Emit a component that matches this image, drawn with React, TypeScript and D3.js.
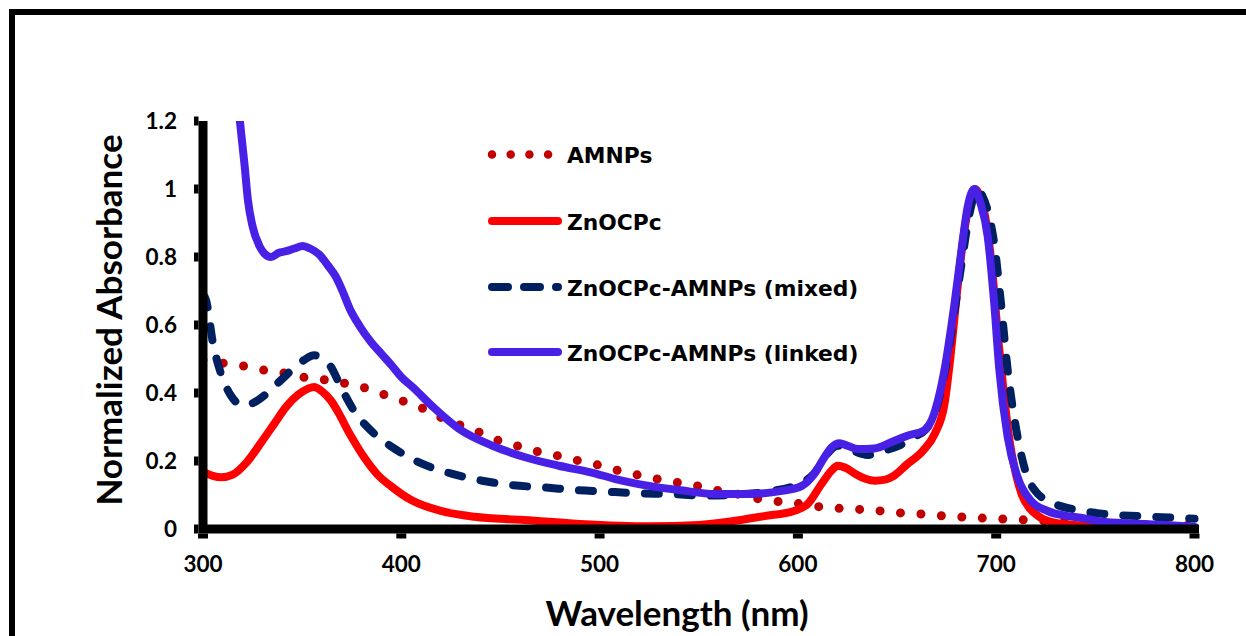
import React from "react";
import * as d3 from "d3";

// ---------- data ----------
const xTicks = [300, 400, 500, 600, 700, 800];
const yTicks = [0, 0.2, 0.4, 0.6, 0.8, 1, 1.2];
const yTickLabels = ["0", "0.2", "0.4", "0.6", "0.8", "1", "1.2"];

const seriesNames = ["AMNPs", "ZnOCPc", "ZnOCPc-AMNPs (mixed)", "ZnOCPc-AMNPs (linked)"];

const amnpsWl = [300,310,320,330,340,350,360,370,380,390,400,410,420,430,440,450,460,470,480,490,500,510,520,530,540,550,560,570,580,590,600,610,620,630,640,650,660,670,680,690,700,710,720,730,740,750,760,770,780,790,800];
const amnpsAbs = [0.497,0.488,0.48,0.468,0.46,0.447,0.44,0.43,0.418,0.398,0.378,0.357,0.328,0.305,0.283,0.258,0.242,0.226,0.214,0.2,0.187,0.171,0.158,0.146,0.136,0.126,0.113,0.102,0.089,0.081,0.075,0.066,0.061,0.058,0.054,0.048,0.045,0.04,0.036,0.033,0.03,0.028,0.025,0.022,0.02,0.018,0.016,0.014,0.012,0.011,0.01];

const zncWl = [300,305,309,315,322,330,336,342,348,353,356,360,364.5,369,373,377,381,388,395,405,420,437,460,490,525,550,566,583,598,605,612,617,620,624,629,634,639,644,648,655,663,669,674,677,680.5,684,687,689.5,692,695,698,701,704,707,710,713,717,722,730,745,770,800];
const zncAbs = [0.168,0.156,0.152,0.16,0.196,0.26,0.31,0.36,0.395,0.413,0.418,0.405,0.378,0.335,0.29,0.25,0.213,0.16,0.125,0.085,0.053,0.036,0.027,0.015,0.008,0.012,0.022,0.038,0.053,0.074,0.133,0.172,0.186,0.18,0.162,0.148,0.142,0.145,0.155,0.19,0.23,0.28,0.37,0.51,0.71,0.88,0.97,1.0,0.975,0.9,0.76,0.56,0.39,0.25,0.16,0.1,0.06,0.035,0.018,0.01,0.006,0.003];

const mixedWl = [300,301.5,305,309,314,320,325,331,336,341,346,351,356,360,364.5,369.5,376,384.6,395.6,409,425.8,440.8,456,472.5,489.5,502.8,520,536,553,570,585,600,608,614,620,627,635,643,651,658,664,669,674,679,683,687,690.5,693,696,699,702.4,705.8,710.8,715.8,720,725.9,732,739,756,772.8,789.6,800];
const mixedAbs = [0.69,0.674,0.547,0.458,0.393,0.364,0.37,0.393,0.42,0.447,0.475,0.497,0.511,0.5,0.477,0.418,0.349,0.29,0.24,0.196,0.162,0.142,0.129,0.122,0.114,0.11,0.105,0.103,0.098,0.102,0.11,0.132,0.162,0.215,0.245,0.232,0.218,0.23,0.245,0.27,0.29,0.34,0.46,0.64,0.8,0.94,0.998,0.98,0.93,0.84,0.664,0.467,0.27,0.152,0.11,0.083,0.068,0.058,0.043,0.038,0.033,0.03];

const linkedWl = [314,318.6,321,322.6,325,328.5,331,334.4,338,342,346,350.3,354,358.7,363,367,370,374,379,384.7,390,395.6,400,405.6,416,429,446,462.5,479.4,496,508,525,541,558,575,592,602,608,613.4,617,621,625,630.3,638.5,647,655.5,663.7,668.7,673.9,679,682.3,685.7,689,692,695.7,699,701.6,705.8,710.8,717.5,725.9,736,742.7,752.7,769,785,800];
const linkedAbs = [1.5,1.2,1.068,0.97,0.89,0.832,0.81,0.8,0.812,0.817,0.825,0.832,0.825,0.807,0.775,0.742,0.705,0.648,0.597,0.55,0.515,0.478,0.447,0.418,0.359,0.295,0.245,0.211,0.186,0.166,0.147,0.127,0.114,0.103,0.103,0.112,0.127,0.16,0.211,0.24,0.252,0.245,0.235,0.237,0.255,0.275,0.29,0.339,0.467,0.664,0.812,0.95,1.0,0.96,0.861,0.664,0.467,0.27,0.152,0.083,0.053,0.038,0.033,0.022,0.016,0.012,0.006];

// ---------- layout ----------
const W = 1246, H = 636;
const x = d3.scaleLinear().domain([300, 800]).range([203, 1194.5]);
const y = d3.scaleLinear().domain([0, 1.2]).range([529, 121]);

const colors = ["#C00000", "#FF0000", "#002060", "#4820E6"];
const toPts = (wl: number[], v: number[]) => wl.map((w, i) => [w, v[i]] as [number, number]);
const seriesData = [
  toPts(amnpsWl, amnpsAbs),
  toPts(zncWl, zncAbs),
  toPts(mixedWl, mixedAbs),
  toPts(linkedWl, linkedAbs),
];

const line = d3
  .line<[number, number]>()
  .x((d) => x(d[0]))
  .y((d) => y(d[1]))
  .curve(d3.curveMonotoneX);

const chartDash = ["0 20.5", undefined, "14 19", undefined];
const chartWidth = [9, 8, 8, 8];
const legendDash = ["0 18.7", undefined, "16 16", undefined];

const tickFont = "Lato, 'Open Sans', sans-serif";
const legendFont = "'DejaVu Sans', Verdana, sans-serif";

export default function App() {
  const legendY = [154.5, 221, 287, 352];
  return (
    <svg
      width={W}
      height={H}
      style={{ position: "absolute", left: 0, top: 0, background: "#fff" }}
    >
      <rect x={0} y={0} width={W} height={H} fill="#fff" />
      <rect x={12} y={12} width={W + 20} height={H + 20} fill="none" stroke="#000" strokeWidth={6} />
      <defs>
        <clipPath id="plotClip">
          <rect x={x(300)} y={y(1.2)} width={x(800) - x(300) + 10} height={y(0) - y(1.2)} />
        </clipPath>
      </defs>

      {/* series */}
      <g clipPath="url(#plotClip)">
        {seriesData.map((pts, i) => (
          <path
            key={i}
            d={line(pts) || ""}
            fill="none"
            stroke={colors[i]}
            strokeWidth={chartWidth[i]}
            strokeDasharray={chartDash[i]}
            strokeLinecap="round"
            strokeLinejoin="round"
          />
        ))}
      </g>

      {/* axes */}
      <path
        d={`M${x(300)},${y(1.2)} L${x(300)},${y(0)} L${x(800) + 4.5},${y(0)}`}
        fill="none"
        stroke="#000"
        strokeWidth={9}
      />
      {yTicks.map((t) => (
        <line key={"yt" + t} x1={x(300) - 4.5} x2={x(300) - 9} y1={y(t)} y2={y(t)} stroke="#000" strokeWidth={9} />
      ))}
      {xTicks.map((t) => (
        <line key={"xt" + t} x1={x(t)} x2={x(t)} y1={y(0) + 4.5} y2={y(0) + 9.5} stroke="#000" strokeWidth={10} />
      ))}
      {yTicks.map((t, i) => (
        <text
          key={"yl" + t}
          x={177}
          y={y(t)}
          dy="0.36em"
          textAnchor="end"
          fontFamily={tickFont}
          fontWeight={700}
          fontSize={22.5}
        >
          {yTickLabels[i]}
        </text>
      ))}
      {xTicks.map((t) => (
        <text
          key={"xl" + t}
          x={x(t)}
          y={572}
          textAnchor="middle"
          fontFamily={tickFont}
          fontWeight={700}
          fontSize={22.5}
        >
          {t}
        </text>
      ))}

      {/* axis titles */}
      <text
        x={677}
        y={626}
        textAnchor="middle"
        fontFamily={tickFont}
        fontWeight={700}
        fontSize={35}
      >
        Wavelength (nm)
      </text>
      <text
        transform={`translate(122,320) rotate(-90)`}
        textAnchor="middle"
        fontFamily={tickFont}
        fontWeight={700}
        fontSize={35}
      >
        Normalized Absorbance
      </text>

      {/* legend */}
      {seriesNames.map((name, i) => (
        <g key={"lg" + i}>
          <line
            x1={492}
            x2={i === 0 ? 548.5 : 558}
            y1={legendY[i]}
            y2={legendY[i]}
            stroke={colors[i]}
            strokeWidth={i === 0 ? 8.5 : 8}
            strokeDasharray={legendDash[i]}
            strokeLinecap="round"
          />
          <text
            x={567}
            y={legendY[i] + 8.5}
            fontFamily={legendFont}
            fontWeight={700}
            fontSize={21.8}
          >
            {name}
          </text>
        </g>
      ))}
    </svg>
  );
}
